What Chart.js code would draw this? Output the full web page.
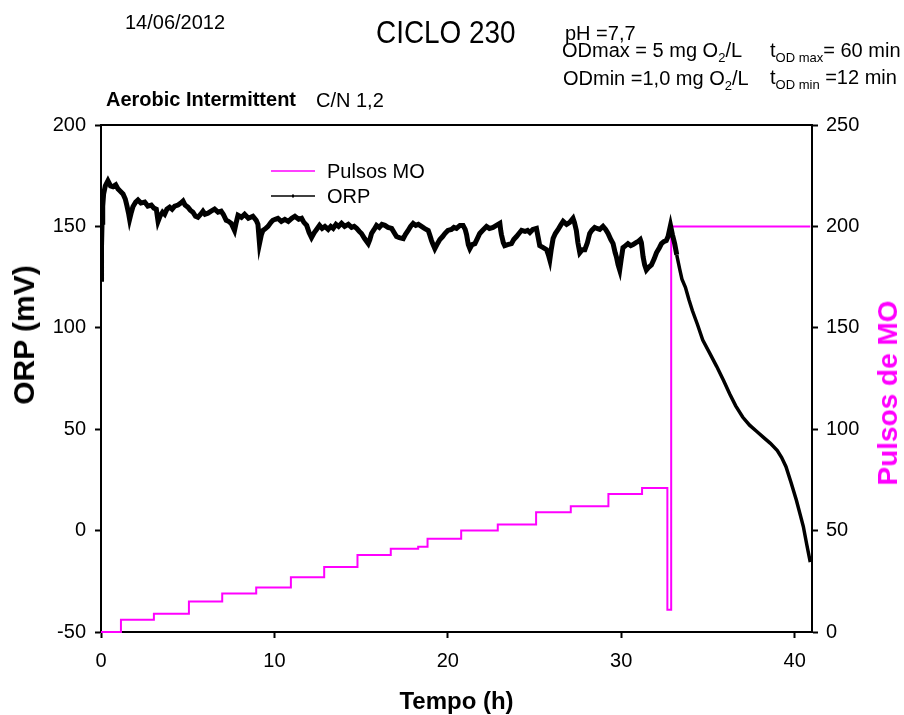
<!DOCTYPE html>
<html>
<head>
<meta charset="utf-8">
<script src="https://cdn.jsdelivr.net/npm/chart.js@4/dist/chart.umd.min.js"></script>
<style>
html,body{margin:0;padding:0;background:#fff;}
#wrap{position:relative;width:904px;height:715px;font-family:"Liberation Sans",Arial,sans-serif;color:#000;overflow:hidden;}
canvas{position:absolute;left:0;top:0;}
.t{position:absolute;white-space:nowrap;font-size:20px;line-height:20px;}
.t sub{font-size:13px;line-height:0;vertical-align:-5px;}
#rt{left:888px;top:393px;transform:translate(-50%,-50%) rotate(-90deg);font-weight:bold;font-size:28px;line-height:28px;color:#FF00FF;}
#lt{left:24px;top:335px;transform:translate(-50%,-50%) rotate(-90deg);font-weight:bold;font-size:30px;line-height:30px;color:#000;}
</style>
</head>
<body>
<div id="wrap">
<canvas id="c" width="904" height="715"></canvas>
<div class="t" style="left:125px;top:12px;">14/06/2012</div>
<div class="t" style="left:376px;top:17px;font-size:31px;line-height:31px;transform:scaleX(0.9);transform-origin:0 0;">CICLO 230</div>
<div class="t" style="left:565px;top:23px;">pH =7,7</div>
<div class="t" style="left:562px;top:40px;">ODmax = 5 mg O<sub>2</sub>/L</div>
<div class="t" style="left:770px;top:40px;">t<sub>OD max</sub>= 60 min</div>
<div class="t" style="left:563px;top:68px;">ODmin =1,0 mg O<sub>2</sub>/L</div>
<div class="t" style="left:770px;top:67px;">t<sub>OD min</sub> =12 min</div>
<div class="t" style="left:106px;top:89px;font-weight:bold;">Aerobic Intermittent</div>
<div class="t" style="left:316px;top:90px;">C/N 1,2</div>
<div class="t" id="lt">ORP (mV)</div>
<div class="t" id="rt">Pulsos de MO</div>
</div>
<script>
// ---- Data ----
const orpTime = [0,0.03,0.06,0.1,0.15,0.25,0.4,0.55,0.69,0.85,0.98,1.1,1.27,1.4,1.5,1.6,1.65,1.75,1.84,2.0,2.13,2.3,2.52,2.7,2.9,3.05,3.19,3.29,3.4,3.55,3.67,3.8,3.96,4.1,4.25,4.44,4.6,4.73,4.85,5.01,5.15,5.3,5.45,5.59,5.75,5.88,6.0,6.17,6.35,6.55,6.75,6.93,7.05,7.22,7.35,7.51,7.7,7.8,7.9,8.1,8.28,8.5,8.76,8.95,9.05,9.14,9.25,9.34,9.5,9.63,9.8,9.91,10.05,10.2,10.4,10.6,10.8,11.0,11.18,11.4,11.57,11.7,11.86,12.0,12.14,12.3,12.43,12.6,12.75,12.91,13.1,13.25,13.39,13.55,13.7,13.87,14.05,14.26,14.45,14.6,14.74,14.9,15.02,15.2,15.41,15.5,15.6,15.75,15.89,16.05,16.2,16.37,16.55,16.76,16.9,17.04,17.2,17.43,17.55,17.71,17.85,18.0,18.15,18.3,18.48,18.65,18.87,18.95,19.06,19.15,19.25,19.4,19.54,19.7,19.83,20.0,20.21,20.35,20.5,20.7,20.88,21.0,21.08,21.18,21.27,21.4,21.56,21.7,21.84,22.0,22.23,22.4,22.61,22.8,23.0,23.05,23.09,23.2,23.28,23.45,23.67,23.8,23.96,24.1,24.25,24.45,24.6,24.73,24.9,25.11,25.2,25.3,25.5,25.69,25.8,25.88,25.97,26.07,26.2,26.36,26.5,26.65,26.85,27.03,27.22,27.3,27.41,27.5,27.61,27.75,27.9,28.05,28.18,28.3,28.47,28.6,28.76,28.95,29.1,29.24,29.4,29.53,29.65,29.72,29.82,29.91,30.0,30.1,30.25,30.39,30.55,30.68,30.85,30.97,31.1,31.16,31.26,31.35,31.45,31.6,31.74,31.9,32.03,32.2,32.32,32.45,32.6,32.7,32.84,32.95,33.08,33.2,33.37,33.5,33.7,33.9,34.1,34.4,34.7,35.1,35.5,35.9,36.25,36.6,37.0,37.4,37.8,38.2,38.6,39.0,39.25,39.5,39.8,40.1,40.3,40.5,40.7,40.9];
const orpValue = [124,140,152,160,166,170,172.5,170,169.6,170.5,168.5,167.5,166,163.5,160,156,153.5,157,159.7,162,163,161.5,162,160,160.5,159,158.5,152.5,155,157,156,158.5,159.5,158.5,160,160.5,161.5,162.5,160.5,159.5,158,157,155,154.5,156,157.5,156,156.5,157.5,158.5,157,157.5,156,153,152.5,151.5,148,152,155.5,154.5,156,154,155,153,151,141.5,146,148,149,150,152,153,153.5,154,152.5,153.5,152.5,154,155,153.5,154,152,150.5,147,144.5,147,148.5,150.5,149,150,148.5,150,149,151,150,151.5,150,151,149.5,150,149,147.5,146.5,144,141.5,143.5,146.5,148.5,150.5,149.5,151,150.5,149.5,149,147,145,144.5,144,146,148,150,151.5,150.5,151,150,149,148,146,143,141,139,141.5,143.5,145,146.5,148,148.5,149.5,149,150.5,150.5,148.5,146,141,139,141,141.5,144,146.5,148,150,149,149.5,150.5,151.5,148,146,142,140.5,141,141.5,143.5,145,146.5,148,147.5,148,147,148.5,149,145,140.5,139.5,138.5,136,133.5,139,144,146.5,148.5,150.5,152.5,151,152,154,152,148,142,137,138.5,138.5,142,146.5,148,149.5,149,148.5,150,148.5,146.5,143.5,141.5,137,135,131,128.5,134,139.5,140.5,141.5,140.5,141,142,142.5,143.5,142,135,131,128.5,130,131,134,137,139.5,141.5,142.5,143,145,150.5,146,141.5,136,129,124,120,114,108.5,101.5,94,87.5,81,74,67.5,61.5,56,52,49,46,43,39.5,36,31.5,23.5,15,8.5,2,-7,-15.5];

const pulseTime  = [0,1.15,3.05,5.07,6.99,8.95,10.95,12.87,14.79,16.71,18.29,18.83,20.77,22.88,25.09,27.09,29.26,31.2,32.66,32.88,40.9];
const pulseValue = [0,6,9,15,19,22,27,32,38,41,42,46,50,53,59,62,68,71,11,200,200];

const xTicks  = [0,10,20,30,40];
const yTicks  = [-50,0,50,100,150,200];
const y2Ticks = [0,50,100,150,200,250];

const seriesNames = ['Pulsos MO','ORP'];

// ---- Build chart ----
const orpData = orpTime.map((t,i)=>({x:t,y:orpValue[i]}));
const pulseData = pulseTime.map((t,i)=>({x:t,y:pulseValue[i]}));
const AX = '#000';
const tickFont = {family:'"Liberation Sans", Arial, sans-serif', size:20};

function fixTicks(list){ return function(scale){ scale.ticks = list.map(v=>({value:v})); }; }

const framePlugin = {
  id:'frame',
  afterDraw(chart){
    const {ctx, chartArea:a} = chart;
    ctx.save();
    ctx.strokeStyle = AX; ctx.lineWidth = 2;
    ctx.beginPath(); ctx.moveTo(a.left-1, a.top); ctx.lineTo(a.right+1, a.top); ctx.stroke();
    ctx.restore();
  }
};

const legendPlugin = {
  id:'innerLegend',
  afterDraw(chart){
    const ctx = chart.ctx;
    const items = [
      {label:seriesNames[0], color:chart.data.datasets[1].borderColor, y:171, marker:false},
      {label:seriesNames[1], color:chart.data.datasets[0].borderColor, y:196, marker:true}
    ];
    ctx.save();
    ctx.font = '20px "Liberation Sans", Arial, sans-serif';
    ctx.textBaseline = 'middle';
    ctx.textAlign = 'left';
    items.forEach(it=>{
      ctx.strokeStyle = it.color; ctx.lineWidth = 1.5;
      ctx.beginPath(); ctx.moveTo(271, it.y); ctx.lineTo(315, it.y); ctx.stroke();
      if (it.marker){ ctx.fillStyle = it.color; ctx.fillRect(292, it.y-1.5, 2, 3); }
      ctx.fillStyle = '#000';
      ctx.fillText(it.label, 327, it.y+1);
    });
    ctx.restore();
  }
};

new Chart(document.getElementById('c'), {
  type:'line',
  data:{
    datasets:[
      {label:seriesNames[1], data:orpData, yAxisID:'y', borderColor:'#000000', borderWidth:4, pointRadius:0, tension:0, order:0,
       segment:{borderWidth: c => (c.p0.parsed.x < 33.2 ? 5 : 3.5)}},
      {label:seriesNames[0], data:pulseData, yAxisID:'y2', borderColor:'#FF00FF', borderWidth:2, pointRadius:0, stepped:'before', order:1, clip:false}
    ]
  },
  options:{
    responsive:false, animation:false, devicePixelRatio:1,
    layout:{padding:{top:125,left:0,right:0,bottom:0}},
    plugins:{legend:{display:false}, tooltip:{enabled:false}},
    scales:{
      x:{
        type:'linear', position:'bottom', min:0, max:41,
        afterBuildTicks: fixTicks(xTicks),
        afterFit(s){ s.height = 83; },
        grid:{drawOnChartArea:false, drawTicks:true, tickLength:6, tickColor:AX, tickWidth:2},
        border:{display:true, color:AX, width:2},
        ticks:{font:tickFont, color:'#000', padding:11, maxRotation:0, autoSkip:false},
        title:{display:true, text:'Tempo (h)', color:'#000', font:{family:'"Liberation Sans", Arial, sans-serif', size:24, weight:'bold', lineHeight:1}, padding:{top:0,bottom:1}}
      },
      y:{
        type:'linear', position:'left', min:-50, max:200,
        afterBuildTicks: fixTicks(yTicks),
        afterFit(s){ s.width = 101; },
        grid:{drawOnChartArea:false, drawTicks:true, tickLength:6, tickColor:AX, tickWidth:2},
        border:{display:true, color:AX, width:2},
        ticks:{font:tickFont, color:'#000', padding:9},
        title:{display:false}
      },
      y2:{
        type:'linear', position:'right', min:0, max:250,
        afterBuildTicks: fixTicks(y2Ticks),
        afterFit(s){ s.width = 92; },
        grid:{drawOnChartArea:false, drawTicks:true, tickLength:6, tickColor:AX, tickWidth:2},
        border:{display:true, color:AX, width:2},
        ticks:{font:tickFont, color:'#000', padding:8},
        title:{display:false}
      }
    }
  },
  plugins:[framePlugin, legendPlugin]
});
</script>
</body>
</html>
